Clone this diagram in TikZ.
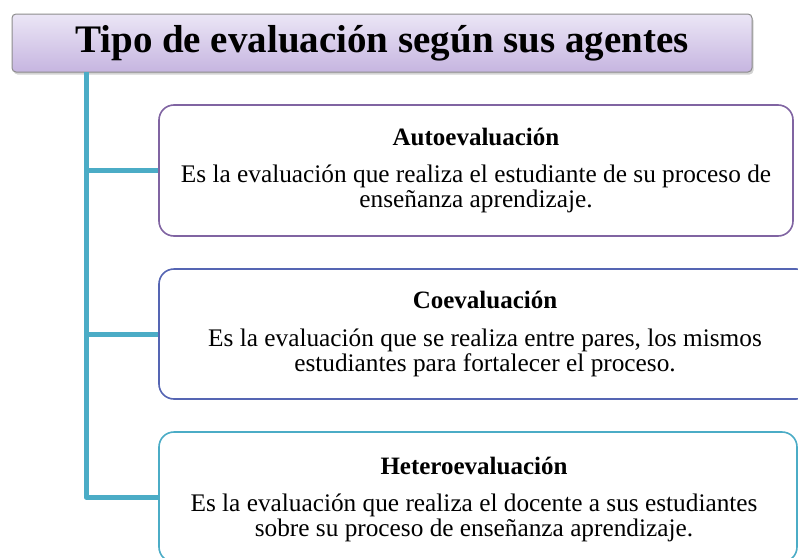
\documentclass[tikz,border=0pt]{standalone}
\usepackage{fontspec}
\setmainfont{Liberation Serif}
\usetikzlibrary{shadows}
\definecolor{trunkc}{HTML}{4BACC6}
\definecolor{pur}{HTML}{8064A2}
\definecolor{blu}{HTML}{5565B3}
\definecolor{titletop}{HTML}{EBE6F6}
\definecolor{titlebot}{HTML}{C6B5E0}
\tikzset{
  x=1pt,y=1pt,
  box/.style={draw, line width=1.6pt, rounded corners=15pt, fill=white, inner sep=0pt},
  conn/.style={draw=trunkc, line width=5pt, line join=round},
  head/.style={font=\bfseries\fontsize{25}{28}\selectfont, inner sep=0pt},
  body/.style={font=\fontsize{25.3}{25}\selectfont, align=center, inner sep=0pt},
}
\begin{document}
\begin{tikzpicture}
\useasboundingbox (0,0) rectangle (798,-557);
\node[draw=gray!90, line width=1pt, rounded corners=4pt, top color=titletop, bottom color=titlebot,
  drop shadow={shadow xshift=1.5pt, shadow yshift=-2.5pt, opacity=0.35},
  minimum width=740pt, minimum height=58pt, inner sep=0pt,
  font=\bfseries\fontsize{39}{40}\selectfont] (title) at (382,-43) {Tipo de evaluación según sus agentes};
\coordinate (trunk) at (86,-72);
\node[box, draw=pur, minimum width=634pt, minimum height=131pt] (b1) at (476,-170.5) {};
\node[box, draw=blu, minimum width=652pt, minimum height=130pt] (b2) at (485,-334) {};
\node[box, draw=trunkc, minimum width=638pt, minimum height=130pt] (b3) at (478,-497) {};
\draw[conn] (trunk) |- (b3.west);
\draw[conn] (b1.west -| trunk) -- (b1.west);
\draw[conn] (b2.west -| trunk) -- (b2.west);
\node[head] (h1) at (476,-137) {Autoevaluación};
\node[body] (t1) at (476,-189) {Es la evaluación que realiza el estudiante de su proceso de\\enseñanza aprendizaje.};
\node[head] (h2) at (485,-300) {Coevaluación};
\node[body] (t2) at (485,-353) {Es la evaluación que se realiza entre pares, los mismos\\estudiantes para fortalecer el proceso.};
\node[head] (h3) at (474,-466) {Heteroevaluación};
\node[body] (t3) at (474,-518) {Es la evaluación que realiza el docente a sus estudiantes\\sobre su proceso de enseñanza aprendizaje.};
\end{tikzpicture}
\end{document}
